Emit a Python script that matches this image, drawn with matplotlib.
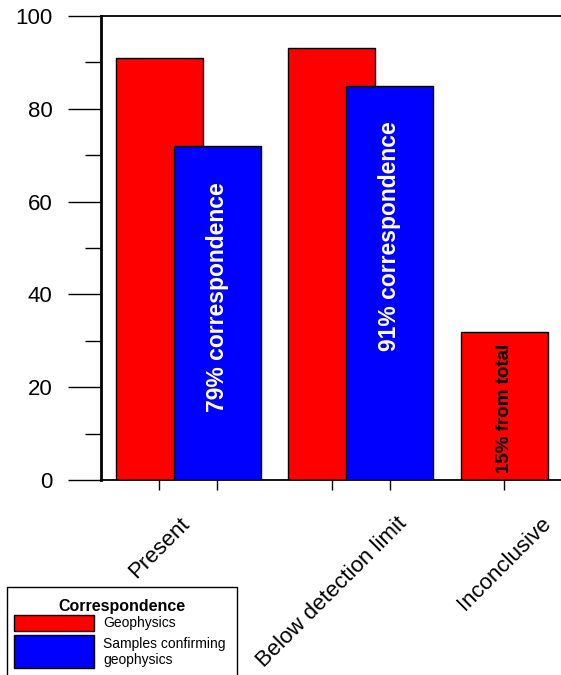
import matplotlib
matplotlib.use("Agg")
import matplotlib.pyplot as plt
from matplotlib.patches import Rectangle
from matplotlib.lines import Line2D

plt.rcParams["font.family"] = ["Liberation Sans", "DejaVu Sans"]

# datos
categorias = ["Present", "Below detection limit", "Inconclusive"]
geofisica = [91, 93, 32]
confirmadas = [72, 85]
etiquetas_barras = ["79% correspondence", "91% correspondence"]
etiqueta_inconcluso = "15% from total"

ROJO = "#ff0000"
AZUL = "#0000ff"
ANCHO = 0.504
DESPLAZ = 0.336

W, H = 561, 675
fig = plt.figure(figsize=(W / 100, H / 100), dpi=100)
ax = fig.add_axes([101 / W, 1 - 480 / H, 460 / W, 464 / H])

x_rojo = list(range(len(categorias)))
x_azul = [i + DESPLAZ for i in range(len(confirmadas))]

ax.bar(x_rojo, geofisica, width=ANCHO, color=ROJO, edgecolor="black", linewidth=1, zorder=2)
ax.bar(x_azul, confirmadas, width=ANCHO, color=AZUL, edgecolor="black", linewidth=1, zorder=3)

# textos dentro de las barras
posiciones_y = [39.5, 52.5]
for x, y, txt in zip(x_azul, posiciones_y, etiquetas_barras):
    ax.text(x, y, txt, rotation=90, ha="center", va="center", color="white",
            fontsize=16.5, fontweight="bold", zorder=4)
ax.text(x_rojo[2], 15.5, etiqueta_inconcluso, rotation=90, ha="center", va="center",
        color="black", fontsize=13.5, fontweight="bold", zorder=4)

ax.set_xlim(-0.339, 2.328)
ax.set_ylim(0, 100)

ax.set_yticks(range(0, 101, 20))
ax.set_yticks(range(10, 100, 20), minor=True)
ax.tick_params(axis="y", which="major", direction="out", length=24, width=1,
               labelsize=16, pad=11)
ax.tick_params(axis="y", which="minor", direction="out", length=11.5, width=1)

ax.set_xticks(x_rojo)
ax.set_xticklabels(categorias, rotation=45, ha="center", fontsize=16)
ax.set_xticks(x_azul, minor=True)
ax.tick_params(axis="x", which="both", direction="out", length=7, width=1, pad=17)

ax.spines["right"].set_visible(False)
ax.spines["left"].set_linewidth(2)
ax.spines["top"].set_linewidth(1.3)
ax.spines["bottom"].set_linewidth(1.3)


def px(x, y):
    """Convierte pixeles (origen arriba a la izquierda) a fraccion de figura."""
    return x / W, 1 - y / H


# leyenda dibujada a mano (los parches tienen alturas distintas)
x0, y0 = px(7, 700)
x1, y1 = px(237, 587)
fig.patches.append(Rectangle((x0, y0), x1 - x0, y1 - y0, transform=fig.transFigure,
                             facecolor="white", edgecolor="black", linewidth=1))
fig.text(*px(122, 606), "Correspondence", ha="center", va="center",
         fontsize=11.5, fontweight="bold")

for (top, bot), color in zip([(615, 631), (635, 668)], [ROJO, AZUL]):
    xa, ya = px(14, bot)
    xb, yb = px(94, top)
    fig.patches.append(Rectangle((xa, ya), xb - xa, yb - ya, transform=fig.transFigure,
                                 facecolor=color, edgecolor="black", linewidth=1))
fig.text(*px(103, 623), "Geophysics", ha="left", va="center", fontsize=10)
fig.text(*px(103, 652), "Samples confirming\ngeophysics", ha="left", va="center",
         fontsize=10, linespacing=1.2)

fig.savefig("out.png", dpi=100)
